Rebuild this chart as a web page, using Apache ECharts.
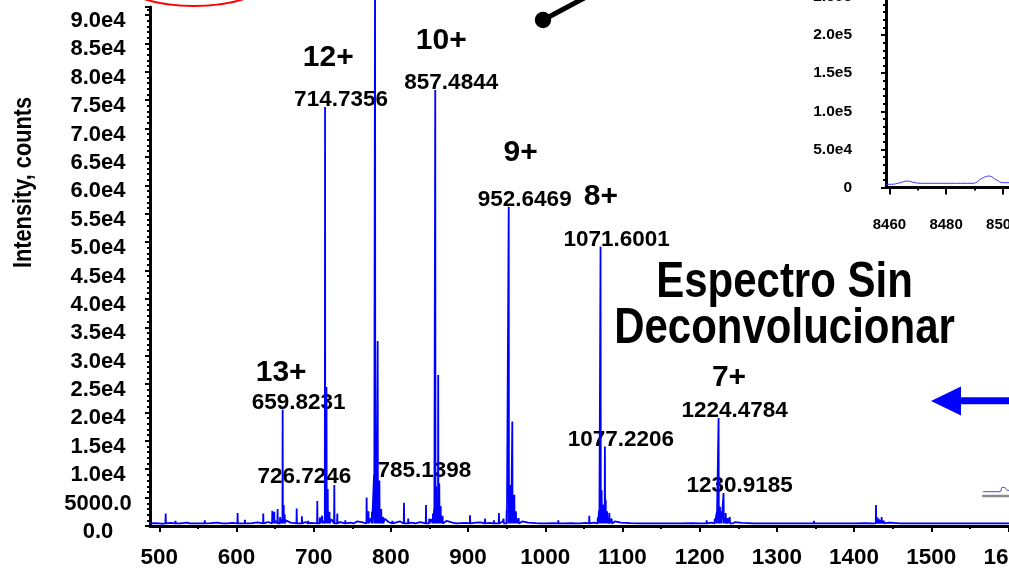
<!DOCTYPE html>
<html>
<head>
<meta charset="utf-8">
<script src="https://cdn.jsdelivr.net/npm/echarts@6/dist/echarts.min.js"></script>
<style>
  html, body { margin: 0; padding: 0; background: #ffffff; }
  #chart { width: 1009px; height: 571px; }
</style>
</head>
<body>
<div id="chart"></div>
<script>
// ---- Raw ESI spectrum (m/z vs intensity, counts) ----
// Labelled ions
const labelledMz  = [659.8231, 714.7356, 726.7246, 785.1398, 857.4844, 952.6469, 1071.6001, 1077.2206, 1224.4784, 1230.9185];
const labelledInt = [20500, 73800, 7200, 8000, 76800, 56200, 49200, 14000, 19000, 5800];

// Charge states of the main series
const chargeNames = ['13+', '12+', '10+', '9+', '8+', '7+'];
const chargeMz    = [659.8231, 714.7356, 857.4844, 952.6469, 1071.6001, 1224.4784];
const chargeInt   = [20500, 73800, 76800, 56200, 49200, 19000];

// Other (unlabelled) sticks: [m/z, intensity]
const otherPeaks = [
  [508.3, 2200], [521, 900], [540, 700], [559, 1000], [582, 700], [601.5, 2300], [611, 1100],
  [617, 800], [630, 900], [634.7, 2200], [643, 1000],
  [646.4, 2700], [649, 2500], [653.3, 3000], [656.5, 1600], [661.2, 3700], [662.5, 2000],
  [678, 3100], [684.8, 1700], [693, 900], [704.7, 4400], [708, 1500], [711, 1800], [716.6, 24500],
  [718.2, 6500], [720.5, 2500], [730.6, 2200], [741, 1000], [752, 800], [768.6, 5000], [771, 2600],
  [775.5, 2500], [778.2, 9000], [779.5, 103000], [781, 12800], [782.9, 32600], [787.5, 3000],
  [790, 1600], [802, 900], [817, 4100], [822.5, 1300], [832, 800], [845.5, 3700], [849.7, 1300],
  [854.5, 2200], [856, 3000], [858.6, 7000], [861.3, 26600], [862.7, 7500], [864.5, 3500],
  [867, 1800], [885, 800], [902.5, 1900], [912, 800], [922, 1300], [933.5, 1000], [940, 2300], [946, 1300],
  [950, 2800], [954.3, 7200], [955.6, 5000], [957.3, 18400], [959.9, 5500], [962, 2600],
  [965.5, 1400], [994, 700], [1016.9, 1000], [1038, 700], [1057, 1800], [1068, 1500], [1069.8, 2800], [1073, 6300],
  [1074.6, 3800], [1078.3, 4600], [1080.2, 2600], [1083, 2300], [1086, 1300], [1130, 700], [1209, 1000],
  [1219.5, 1300], [1222, 2300], [1226.3, 3400], [1228, 2600], [1233.7, 2300], [1236, 1400],
  [1239, 1600], [1243, 800], [1348, 900], [1425.5, 800], [1428.4, 3700], [1430.5, 1500],
  [1432.5, 1200], [1435.7, 1600], [1438.5, 900], [1522, 700]
];

// Baseline / chemical noise between the sticks
const baseline = [
  [488, 450], [495, 500], [503, 400], [515, 550], [527, 450], [536, 600], [548, 450],
  [566, 500], [575, 600], [588, 450], [595, 550], [620, 500], [628, 650], [641, 700],
  [651, 900], [658, 1200], [664, 1000], [670, 600], [690, 700], [697, 550], [713, 900],
  [723, 1200], [734, 700], [748, 600], [756, 800], [762, 700], [774, 1400], [784, 2500],
  [792, 1300], [797, 700], [806, 600], [812, 800], [827, 600], [838, 700], [852, 1200],
  [860, 2500], [866, 1500], [872, 900], [880, 600], [890, 500], [897, 550], [910, 600],
  [916, 650], [928, 550], [945, 800], [953.5, 3000], [958.5, 2500], [963.5, 1300],
  [970, 800], [978, 600], [988, 500], [1000, 450], [1010, 500], [1025, 450], [1035, 500],
  [1045, 450], [1052, 550], [1063, 600], [1072, 2500], [1076, 2000], [1081, 1500],
  [1090, 800], [1098, 600], [1110, 500], [1125, 450], [1140, 450], [1160, 450],
  [1175, 450], [1190, 500], [1200, 450], [1215, 600], [1225.5, 2000], [1232, 1500],
  [1246, 700], [1255, 550], [1270, 450], [1290, 450], [1310, 450], [1330, 450],
  [1360, 450], [1380, 450], [1400, 450], [1415, 500], [1434, 1000], [1445, 600],
  [1460, 450], [1480, 450], [1500, 450], [1540, 450], [1570, 450], [1600, 450],
  [1640, 450], [1700, 450]
];

// Axis ticks
const mzMajorTicks = [500, 600, 700, 800, 900, 1000, 1100, 1200, 1300, 1400, 1500, 1600];
const mzMinorTicks = [550, 650, 750, 850, 950, 1050, 1150, 1250, 1350, 1450, 1550, 1650];

// ---- Deconvoluted mass inset (Da vs intensity) ----
const insetMass = [8458.8, 8460.8, 8463.5, 8466.3, 8469.0, 8470.8, 8481.4, 8489.6, 8492.6, 8495.2, 8497.8, 8500.0, 8502.2, 8506, 8512];
const insetInt  = [4200, 4200, 6000, 8500, 6300, 5500, 5500, 5500, 12000, 15100, 9800, 6300, 6300, 6000, 6500];
const insetMajorTicks = [8460, 8480, 8500, 8520, 8540];
const insetMinorTicks = [8470, 8490, 8510, 8530, 8550];

// ---- Edge of the lower deconvoluted trace ----
const traceX = [0, 17, 19, 21.5, 24, 30];
const traceY = [1.65, 1.65, 3.3, 3.3, 2.3, 2.0];

// ---------------------------------------------------------------
const FONT = '"Liberation Sans", Arial, sans-serif';
const BLUE = '#0000ff';
const CLEAR = 'rgba(0,0,0,0)';
const FOOT = 450;       // level each stick returns to
const HALF = 0.3;       // half width of a stick, m/z

// sticks drawn as narrow spikes joined by the noise baseline
const sticks = otherPeaks.concat(labelledMz.map((m, i) => [m, labelledInt[i]]));
const spectrum = baseline.slice();
sticks.forEach(([m, v]) => {
  spectrum.push([m - HALF, FOOT], [m, v], [m + HALF, FOOT]);
});
spectrum.sort((a, b) => a[0] - b[0]);

// label placement (pixels, relative to the apex of each stick)
const mzLabelShift = { '726.7246': [-30, -8], '785.1398': [45, -10] };
const chargeShift = [[-1.5, -36.6], [3.2, -49.5], [6, -48.7], [12, -54.2], [0.4, -49.6], [10.4, -40.6]];

const mzLabelData = labelledMz.map((m, i) => ({
  value: [m, labelledInt[i]],
  label: { offset: mzLabelShift[m.toFixed(4)] || [16, -7] }
}));
const chargeData = chargeNames.map((n, i) => ({
  name: n,
  value: [chargeMz[i], chargeInt[i]],
  label: { offset: chargeShift[i] }
}));

function mainYLabel(v) {
  if (v === 0) return '0.0';
  if (v < 10000) return v.toFixed(1);
  return (v / 1e4).toFixed(1) + 'e4';
}
function insetYLabel(v) {
  if (v === 0) return '0';
  const e = Math.floor(Math.log10(v) + 1e-9);
  return (v / Math.pow(10, e)).toFixed(1) + 'e' + e;
}
const plain = v => String(v);

const chart = echarts.init(document.getElementById('chart'), null, { renderer: 'canvas' });

const blackLine = w => ({ show: true, lineStyle: { color: '#000', width: w } });
// invisible anchor symbols; labels carry the text at full opacity
const anchorStyle = { color: CLEAR, opacity: 1 };

chart.setOption({
  animation: false,
  backgroundColor: '#ffffff',
  grid: [
    { left: 150, top: 7, width: 935.7, height: 519, outerBoundsMode: 'none', containLabel: false },
    { left: 886, top: -41.1, width: 286.9, height: 228.6, outerBoundsMode: 'none', containLabel: false },
    { left: 983, top: 470, width: 100, height: 26, outerBoundsMode: 'none', containLabel: false }
  ],
  xAxis: [
    { // main m/z axis with labels
      type: 'value', gridIndex: 0, min: 488, max: 1700, position: 'bottom',
      axisLine: { show: true, onZero: false, lineStyle: { color: '#000', width: 3 } },
      axisTick: { show: true, length: 6, customValues: mzMajorTicks, lineStyle: { color: '#000', width: 2 } },
      axisLabel: {
        customValues: mzMajorTicks, formatter: plain, margin: 20, color: '#000',
        fontFamily: FONT, fontWeight: 'bold', fontSize: 22.5
      },
      splitLine: { show: false }
    },
    { // half-hundred ticks
      type: 'value', gridIndex: 0, min: 488, max: 1700, position: 'bottom',
      axisLine: { show: false },
      axisTick: { show: true, length: 3, customValues: mzMinorTicks, lineStyle: { color: '#000', width: 2 } },
      axisLabel: { show: false },
      splitLine: { show: false }
    },
    { // inset mass axis
      type: 'value', gridIndex: 1, min: 8458.8, max: 8560, position: 'bottom',
      axisLine: { show: true, onZero: false, lineStyle: { color: '#000', width: 3 } },
      axisTick: { show: true, length: 7, customValues: insetMajorTicks, lineStyle: { color: '#000', width: 2 } },
      axisLabel: {
        customValues: insetMajorTicks, formatter: plain, margin: 30, color: '#000',
        fontFamily: FONT, fontWeight: 'bold', fontSize: 15
      },
      splitLine: { show: false }
    },
    {
      type: 'value', gridIndex: 1, min: 8458.8, max: 8560, position: 'bottom',
      axisLine: { show: false },
      axisTick: { show: true, length: 3, customValues: insetMinorTicks, lineStyle: { color: '#000', width: 2 } },
      axisLabel: { show: false },
      splitLine: { show: false }
    },
    { // lower trace
      type: 'value', gridIndex: 2, min: 0, max: 100, position: 'bottom',
      axisLine: { show: true, lineStyle: { color: '#8c8c8c', width: 2.4 } },
      axisTick: { show: false }, axisLabel: { show: false }, splitLine: { show: false }
    }
  ],
  yAxis: [
    {
      type: 'value', gridIndex: 0, min: 0, max: 91400, interval: 5000,
      axisLine: blackLine(3),
      axisTick: { show: true, length: 5, lineStyle: { color: '#000', width: 2 } },
      minorTick: { show: true, splitNumber: 5, length: 3, lineStyle: { color: '#000', width: 2 } },
      axisLabel: {
        showMaxLabel: false, formatter: mainYLabel, color: '#000',
        fontFamily: FONT, fontWeight: 'bold', fontSize: 22,
        align: 'center', verticalAlign: 'top', lineHeight: 12, margin: 52
      },
      splitLine: { show: false }
    },
    {
      type: 'value', gridIndex: 1, min: 0, max: 300000, interval: 50000,
      axisLine: blackLine(3),
      axisTick: { show: true, length: 5, lineStyle: { color: '#000', width: 2 } },
      minorTick: { show: true, splitNumber: 5, length: 3, lineStyle: { color: '#000', width: 2 } },
      axisLabel: {
        formatter: insetYLabel, color: '#000', margin: 34,
        fontFamily: FONT, fontWeight: 'bold', fontSize: 15.5
      },
      splitLine: { show: false }
    },
    { type: 'value', gridIndex: 2, min: 0, max: 10, show: false }
  ],
  series: [
    {
      name: 'm/z labels', type: 'scatter', xAxisIndex: 0, yAxisIndex: 0, z: 1,
      symbolSize: 1, itemStyle: anchorStyle, silent: true, clip: false,
      label: {
        show: true, position: 'inside', color: '#000',
        fontFamily: FONT, fontWeight: 'bold', fontSize: 22.5,
        formatter: p => p.value[0].toFixed(4)
      },
      data: mzLabelData
    },
    {
      name: 'charge states', type: 'scatter', xAxisIndex: 0, yAxisIndex: 0, z: 1,
      symbolSize: 1, itemStyle: anchorStyle, silent: true, clip: false,
      label: {
        show: true, position: 'inside', color: '#000',
        fontFamily: FONT, fontWeight: 'bold', fontSize: 30,
        formatter: '{b}'
      },
      data: chargeData
    },
    {
      name: 'spectrum', type: 'line', xAxisIndex: 0, yAxisIndex: 0, z: 3,
      showSymbol: false, clip: false, silent: true,
      lineStyle: { color: BLUE, width: 1.8 },
      data: spectrum
    },
    {
      name: 'deconvoluted', type: 'line', xAxisIndex: 2, yAxisIndex: 1, z: 3,
      showSymbol: false, smooth: 0.4, silent: true,
      lineStyle: { color: '#3a3aff', width: 1 },
      data: insetMass.map((m, i) => [m, insetInt[i]])
    },
    {
      name: 'lower trace', type: 'line', xAxisIndex: 4, yAxisIndex: 2, z: 3,
      showSymbol: false, smooth: 0.4, silent: true,
      lineStyle: { color: '#3a3aff', width: 1 },
      data: traceX.map((x, i) => [x, traceY[i]])
    }
  ],
  graphic: [
    { // y axis title, condensed
      type: 'text', x: 23.5, y: 182.5, rotation: Math.PI / 2, scaleX: 0.82, silent: true,
      style: {
        text: 'Intensity, counts', align: 'center', verticalAlign: 'middle',
        fill: '#000', font: 'bold 26.5px ' + FONT
      }
    },
    {
      type: 'text', x: 784.5, y: 260.2, scaleX: 0.84, silent: true,
      style: {
        text: 'Espectro Sin\nDeconvolucionar', align: 'center', verticalAlign: 'top',
        lineHeight: 45.7, fill: '#000', font: 'bold 50px ' + FONT
      }
    },
    { // red circle around the top ion
      type: 'ellipse', silent: true,
      shape: { cx: 194, cy: -25, rx: 79, ry: 31 },
      style: { fill: 'none', stroke: '#ff0000', lineWidth: 2 }
    },
    { // pointer
      type: 'line', silent: true,
      shape: { x1: 543, y1: 20, x2: 603, y2: -12 },
      style: { stroke: '#000', lineWidth: 5 }
    },
    {
      type: 'circle', silent: true,
      shape: { cx: 543, cy: 20, r: 8.2 },
      style: { fill: '#000' }
    },
    { // blue arrow
      type: 'polygon', silent: true,
      shape: { points: [[931, 401], [961, 386.5], [961, 415.5]] },
      style: { fill: BLUE }
    },
    {
      type: 'rect', silent: true,
      shape: { x: 958, y: 397.3, width: 60, height: 6.9 },
      style: { fill: BLUE }
    }
  ]
});
</script>
</body>
</html>
